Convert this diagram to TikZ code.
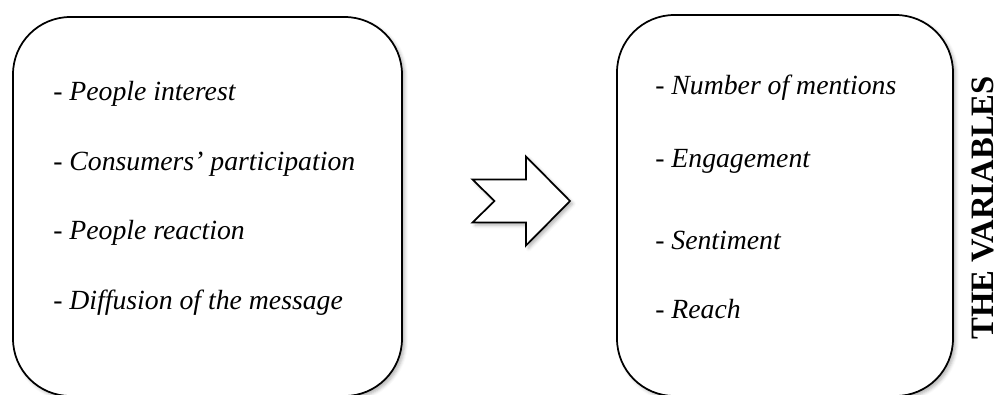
\documentclass[tikz,border=0pt]{standalone}
\usepackage{fontspec}
\setmainfont{Liberation Serif}
\usetikzlibrary{shadows.blur}
\begin{document}
\begin{tikzpicture}[x=0.75pt,y=-0.75pt,
  softshadow/.style={blur shadow={shadow xshift=2pt, shadow yshift=-2pt, shadow blur radius=2.5pt, shadow opacity=30}},
  panel/.style={draw=black, line width=1.3pt, fill=white, rounded corners=43pt,
    inner sep=0pt, outer sep=0pt, softshadow},
  item/.style={anchor=base west, inner sep=0pt, font=\fontsize{20.8}{25}\selectfont\itshape},
  arrowshape/.style={draw=black, line width=1.3pt, fill=white, line join=miter, softshadow},
  title/.style={rotate=90, inner sep=0pt, font=\fontsize{24.5}{29}\selectfont\bfseries}
  ]
\useasboundingbox (0,0) rectangle (1000,394);

% the two panels (their lower edges run just past the page)
\node[panel, minimum width=291.75pt, minimum height=284.25pt] (left) at (207.5,206.5) {};
\node[panel, minimum width=252pt, minimum height=285.75pt] (right) at (785,205.5) {};

% block arrow with notched tail
\draw[arrowshape] (472.5,179.5) -- (526,179.5) -- (526,156.5) -- (570,201)
  -- (526,245.5) -- (526,222.5) -- (472.5,222.5) -- (494.5,201) -- cycle;

% left list
\node[item] (l1) at (53,100) {- People interest};
\node[item] (l2) at (53,170) {- Consumers’ participation};
\node[item] (l3) at (53,239) {- People reaction};
\node[item] (l4) at (53,309) {- Diffusion of the message};

% right list
\node[item] (r1) at (655,94)  {- Number of mentions};
\node[item] (r2) at (655,167) {- Engagement};
\node[item] (r3) at (655,249) {- Sentiment};
\node[item] (r4) at (655,318) {- Reach};

% side title
\node[title] (t) at (983,208) {THE VARIABLES};
\end{tikzpicture}
\end{document}
